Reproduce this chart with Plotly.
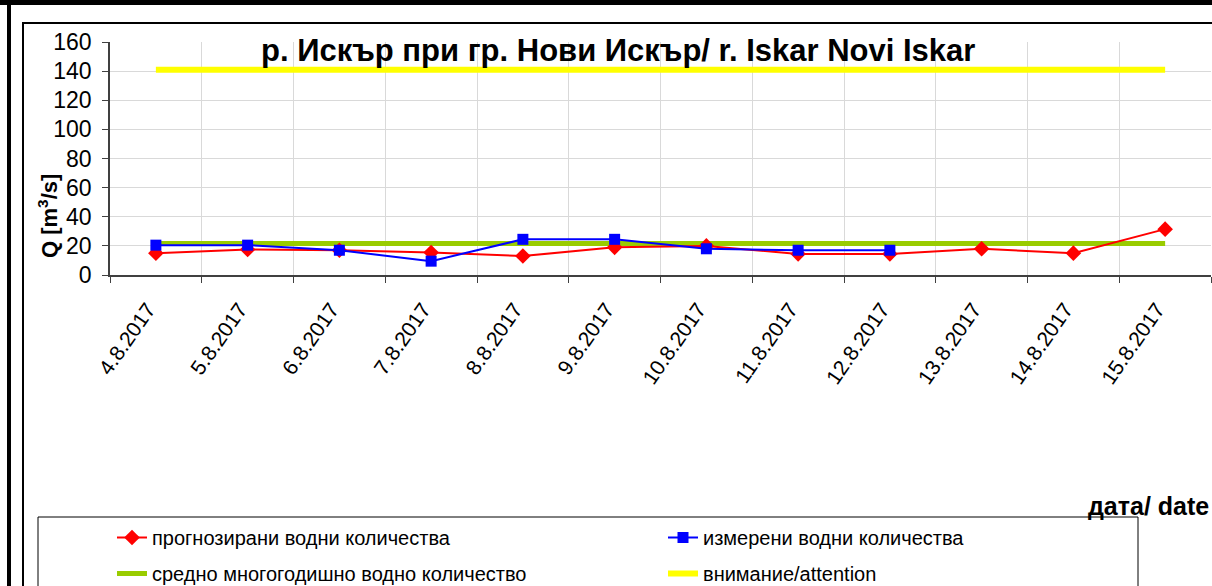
import plotly.graph_objects as go

dates = ["4.8.2017", "5.8.2017", "6.8.2017", "7.8.2017", "8.8.2017", "9.8.2017",
         "10.8.2017", "11.8.2017", "12.8.2017", "13.8.2017", "14.8.2017", "15.8.2017"]
forecast = [15, 17.5, 17, 15.5, 13, 19, 20, 14.5, 14.5, 18, 15, 31.5]
measured = [20.5, 20.5, 17, 9.5, 24.5, 24.5, 18, 17, 17, None, None, None]
mean_q = [21.7] * 12
attention = [141] * 12

W, H = 1212, 586
L, R, T, B = 110, 1, 42, 311
PW, PH = W - L - R, H - T - B

def px(x):
    return (x - L) / PW

def py(y):
    return (H - B - y) / PH

FONT = "Arial, Liberation Sans, sans-serif"

fig = go.Figure()
fig.add_trace(go.Scatter(x=dates, y=mean_q, mode="lines", name="средно многогодишно водно количество",
                         line=dict(color="#99CC00", width=5), legend="legend", legendgroup="c", legendrank=2))
fig.add_trace(go.Scatter(x=dates, y=attention, mode="lines", name="внимание/attention",
                         line=dict(color="#FFFF00", width=6), legend="legend2", legendgroup="d", legendrank=2))
fig.add_trace(go.Scatter(x=dates, y=forecast, mode="lines+markers", name="прогнозирани водни количества",
                         line=dict(color="#FF0000", width=2), marker=dict(symbol="diamond", size=12, color="#FF0000"),
                         legend="legend", legendgroup="a", legendrank=1))
fig.add_trace(go.Scatter(x=dates, y=measured, mode="lines+markers", name="измерени водни количества",
                         line=dict(color="#0000FF", width=2), marker=dict(symbol="square", size=11, color="#0000FF"),
                         legend="legend2", legendgroup="b", legendrank=1))

shapes = [
    # outer frames
    dict(type="rect", xref="paper", yref="paper", x0=px(0), x1=px(W + 20), y0=py(0), y1=py(5),
         fillcolor="black", line=dict(width=0)),
    dict(type="rect", xref="paper", yref="paper", x0=px(7), x1=px(11), y0=py(0), y1=py(H + 20),
         fillcolor="black", line=dict(width=0)),
    dict(type="rect", xref="paper", yref="paper", x0=px(22), x1=px(W + 20), y0=py(22), y1=py(24),
         fillcolor="black", line=dict(width=0)),
    dict(type="rect", xref="paper", yref="paper", x0=px(22), x1=px(24), y0=py(22), y1=py(H + 20),
         fillcolor="black", line=dict(width=0)),
    # legend box
    dict(type="rect", xref="paper", yref="paper", x0=px(38), x1=px(1138), y0=py(517), y1=py(H + 20),
         fillcolor="rgba(0,0,0,0)", line=dict(color="black", width=1)),
]

annotations = [
    dict(text="<b>р. Искър при гр. Нови Искър/ r. Iskar Novi Iskar</b>", x=px(618), y=py(50),
         xref="paper", yref="paper", showarrow=False, xanchor="center", yanchor="middle",
         font=dict(family=FONT, size=31, color="black")),
    dict(text="<b>Q [m<sup>3</sup>/s]</b>", x=px(48), y=py(216), xref="paper", yref="paper",
         showarrow=False, textangle=-90, xanchor="center", yanchor="middle",
         font=dict(family=FONT, size=22, color="black")),
    dict(text="<b>дата/ date</b>", x=px(1211), y=py(506), xref="paper", yref="paper",
         showarrow=False, xanchor="right", yanchor="middle",
         font=dict(family=FONT, size=25, color="black")),
]

fig.update_layout(
    width=W, height=H,
    margin=dict(l=L, r=R, t=T, b=B, pad=0, autoexpand=False),
    paper_bgcolor="white", plot_bgcolor="white",
    font=dict(family=FONT, size=20, color="black"),
    showlegend=True,
    legend=dict(x=px(112), y=py(518), xanchor="left", yanchor="top", orientation="v",
                bgcolor="rgba(0,0,0,0)", font=dict(family=FONT, size=20), tracegroupgap=7,
                itemclick=False, itemdoubleclick=False),
    legend2=dict(x=px(663), y=py(518), xanchor="left", yanchor="top", orientation="v",
                 bgcolor="rgba(0,0,0,0)", font=dict(family=FONT, size=20), tracegroupgap=7,
                 itemclick=False, itemdoubleclick=False),
    shapes=shapes,
    annotations=annotations,
    xaxis=dict(type="category", categoryorder="array", categoryarray=dates,
               range=[-0.5, 11.5], tickson="boundaries", ticks="outside", ticklen=6,
               tickcolor="#404040", showgrid=True, gridcolor="#D9D9D9", gridwidth=1,
               showline=True, linecolor="#404040", linewidth=1.5, tickangle=-55,
               tickfont=dict(family=FONT, size=21, color="black"), zeroline=False,
               ticklabelstandoff=12, ticklabelshift=-8, automargin=False),
    yaxis=dict(range=[0, 160], dtick=20, ticks="outside", ticklen=6, tickcolor="#404040",
               showgrid=True, gridcolor="#D9D9D9", gridwidth=1, showline=True,
               linecolor="#404040", linewidth=1.5, zeroline=False, ticklabelstandoff=6,
               tickfont=dict(family=FONT, size=23, color="black"), automargin=False),
)

fig.write_html("out.html", config={"displayModeBar": False},
               post_script="document.body.style.margin='0px';document.body.style.padding='0px';")
